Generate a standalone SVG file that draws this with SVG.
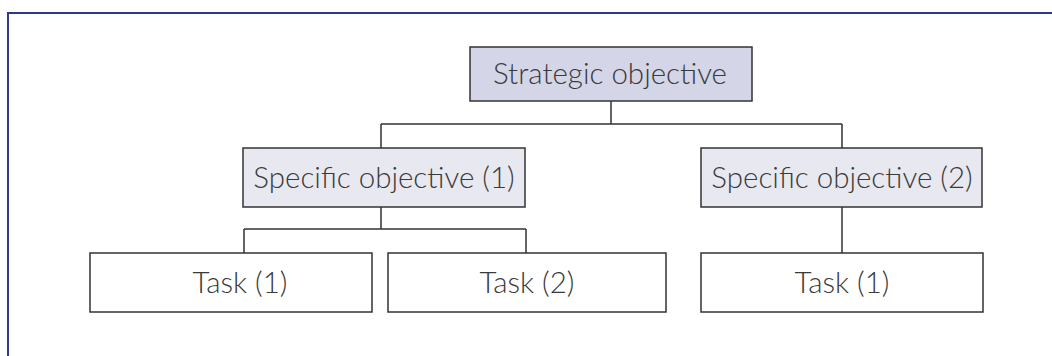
<svg xmlns="http://www.w3.org/2000/svg" width="1052" height="356" viewBox="0 0 1052 356">
  <style>
    .box { stroke: #333; stroke-width: 1.5; }
    .top { fill: #d4d5e6; }
    .mid { fill: #e8e8f0; }
    .leaf { fill: #ffffff; }
    .lbl { font-family: Lato, "Open Sans", "Liberation Sans", sans-serif; font-weight: 300; font-size: 29.5px; fill: #3a3a3a; text-anchor: middle; }
    .wire { stroke: #333; stroke-width: 1.5; fill: none; }
    .frame { stroke: #2e3a87; stroke-width: 2; fill: none; }
  </style>
  <rect width="1052" height="356" fill="#ffffff"/>
  <!-- page frame: top and left rules only -->
  <path class="frame" d="M8,356 V13 H1052"/>

  <g id="connectors">
    <path class="wire" d="M611,101 V124 M381,124 H842 M381,124 V148 M842,124 V148"/>
    <path class="wire" d="M381,207 V229 M244,229 H526 M244,229 V253 M526,229 V253"/>
    <path class="wire" d="M842,207 V253"/>
  </g>

  <g id="strategic">
    <rect class="box top" x="470" y="47" width="282" height="54"/>
    <text class="lbl" x="610" y="84">Strategic objective</text>
  </g>
  <g id="specific-1">
    <rect class="box mid" x="243" y="148" width="282" height="59"/>
    <text class="lbl" x="384" y="188">Specific objective (1)</text>
  </g>
  <g id="specific-2">
    <rect class="box mid" x="701" y="148" width="281" height="59"/>
    <text class="lbl" x="842" y="188">Specific objective (2)</text>
  </g>
  <g id="task-1-1">
    <rect class="box leaf" x="90" y="253" width="282" height="59"/>
    <text class="lbl" x="240" y="293">Task (1)</text>
  </g>
  <g id="task-1-2">
    <rect class="box leaf" x="388" y="253" width="278" height="59"/>
    <text class="lbl" x="527" y="293">Task (2)</text>
  </g>
  <g id="task-2-1">
    <rect class="box leaf" x="701" y="253" width="282" height="59"/>
    <text class="lbl" x="842" y="293">Task (1)</text>
  </g>
</svg>
